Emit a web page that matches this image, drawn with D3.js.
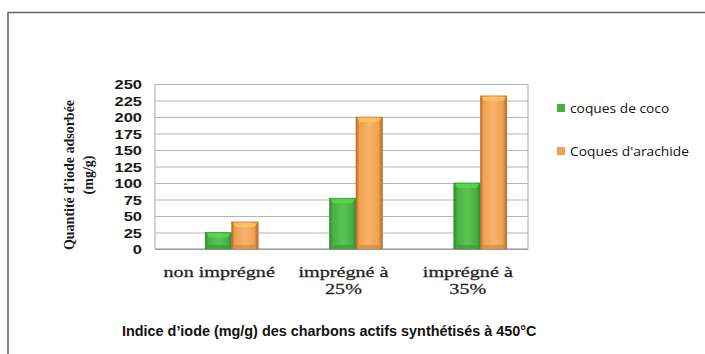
<!DOCTYPE html>
<html>
<head>
<meta charset="utf-8">
<script src="https://cdn.jsdelivr.net/npm/d3@7"></script>
<style>
  html, body { margin: 0; padding: 0; background: #fff; }
  svg { display: block; }
</style>
</head>
<body>
<svg id="chart" width="705" height="354"></svg>
<script>
// Iodine number of activated carbons synthesised at 450°C
const categories = [["non imprégné"], ["imprégné à", "25%"], ["imprégné à", "35%"]];
const seriesNames = ["coques de coco", "Coques d'arachide"];
const coco = [25, 77, 100];
const arachide = [41, 200, 232];
const yTicks = [0, 25, 50, 75, 100, 125, 150, 175, 200, 225, 250];
const yTitle = ["Quantité d'iode adsorbée", "(mg/g)"];
const caption = "Indice d’iode (mg/g) des charbons actifs synthétisés à 450°C";

const svg = d3.select("#chart");
const defs = svg.append("defs");

// bevelled fills for the columns
function bevel(id, edge, mid, light) {
  const g = defs.append("linearGradient").attr("id", id).attr("x1", 0).attr("x2", 1).attr("y1", 0).attr("y2", 0);
  g.append("stop").attr("offset", "0%").attr("stop-color", edge);
  g.append("stop").attr("offset", "12%").attr("stop-color", mid);
  g.append("stop").attr("offset", "50%").attr("stop-color", light);
  g.append("stop").attr("offset", "85%").attr("stop-color", mid);
  g.append("stop").attr("offset", "100%").attr("stop-color", edge);
}
bevel("gGreen", "#2f8a2c", "#45b23f", "#5cc353");
bevel("gOrange", "#b8681e", "#f0a050", "#f7b46c");
const colors = ["#45b23f", "#f0a050"];
const fills = ["url(#gGreen)", "url(#gOrange)"];

// stretch a text node horizontally so it spans the given width
function fitWidth(node, x0, yb, width, anchor) {
  const len = node.getComputedTextLength();
  const k = width / len;
  const tx = anchor === "middle" ? x0 : x0;
  d3.select(node).attr("transform", `translate(${tx},${yb}) scale(${k},1)`);
}

// frame
svg.append("path").attr("d", "M8,354 L8,12.5 L705,12.5").attr("fill", "none")
  .attr("stroke", "#666").attr("stroke-width", 1.5);

const plot = { left: 155, right: 528, top: 84, bottom: 249 };
const depth = 14.5;

const y = d3.scaleLinear().domain([0, 250]).range([plot.bottom, plot.top]);
const x = d3.scaleBand().domain(d3.range(categories.length)).range([plot.left, plot.right]);
const barW = 26.5;
const xs = d3.scaleBand().domain([0, 1]).range([-barW, barW]).padding(0);

// horizontal grid lines and value labels
const yAxis = d3.axisLeft(y).tickValues(yTicks).tickSize(-(plot.right - plot.left)).tickFormat(d => d);
const ya = svg.append("g").attr("transform", `translate(${plot.left},0)`).call(yAxis);
ya.select(".domain").remove();
ya.selectAll(".tick line").attr("stroke", "#b5b5b5").attr("stroke-width", 1);
ya.selectAll(".tick text")
  .attr("dy", "0.36em")
  .attr("font-family", "Liberation Sans, Arial, sans-serif")
  .attr("font-weight", "bold").attr("font-size", 13.5).attr("fill", "#1a1a1a")
  .attr("transform", "scale(1.22,1)")
  .attr("x", -13 / 1.22);

// side walls and floor
svg.append("line").attr("x1", plot.left).attr("x2", plot.left).attr("y1", plot.top).attr("y2", plot.bottom).attr("stroke", "#a8a8a8");
svg.append("line").attr("x1", plot.right).attr("x2", plot.right).attr("y1", plot.top).attr("y2", plot.bottom).attr("stroke", "#a8a8a8");
svg.append("line").attr("x1", plot.left).attr("x2", plot.right).attr("y1", plot.bottom).attr("y2", plot.bottom).attr("stroke", "#8a8a8a");

// columns
const data = [coco, arachide];
data.forEach((vals, s) => {
  const g = svg.append("g");
  vals.forEach((v, i) => {
    const cx = x(i) + x.bandwidth() / 2 + depth;
    const x0 = cx + xs(s);
    const w = xs.bandwidth();
    const top = y(v);
    const h = plot.bottom - top;
    g.append("rect").attr("x", x0).attr("y", top).attr("width", w).attr("height", h)
      .attr("fill", fills[s]).attr("stroke", d3.color(colors[s]).darker(0.8)).attr("stroke-width", 0.6);
    // top bevel highlight
    g.append("path")
      .attr("d", `M${x0 + 1},${top + 1} L${x0 + w - 1},${top + 1} L${x0 + w - 4},${top + 5} L${x0 + 4},${top + 5} Z`)
      .attr("fill", d3.color(colors[s]).brighter(0.6)).attr("opacity", 0.8);
    // bottom shadow band
    g.append("rect").attr("x", x0 + 3).attr("y", plot.bottom - 4).attr("width", w - 6).attr("height", 3.5)
      .attr("fill", d3.color(colors[s]).darker(0.5)).attr("opacity", 0.6);
  });
});

// category labels
const catG = svg.append("g");
categories.forEach((lines, i) => {
  const cx = x(i) + x.bandwidth() / 2 + 2;
  lines.forEach((t, k) => {
    catG.append("text")
      .attr("transform", `translate(${cx},${277 + k * 17}) scale(1.3,1)`)
      .attr("text-anchor", "middle")
      .attr("font-family", "Liberation Serif, Times New Roman, serif")
      .attr("font-size", 15.5).attr("fill", "#222")
      .attr("stroke", "#222").attr("stroke-width", 0.25)
      .text(t);
  });
});

// y axis title
const yt = svg.append("g").attr("transform", "translate(0,175)");
yTitle.forEach((t, k) => {
  yt.append("text")
    .attr("transform", `translate(${74 + k * 19},0) rotate(-90)`)
    .attr("text-anchor", "middle")
    .attr("font-family", "Liberation Serif, Times New Roman, serif")
    .attr("font-weight", "bold").attr("font-size", 14).attr("fill", "#1a1a1a")
    .text(t);
});

// legend
const leg = svg.append("g");
seriesNames.forEach((n, i) => {
  const ly = 108 + i * 43;
  leg.append("rect").attr("x", 557).attr("y", ly - 4).attr("width", 8).attr("height", 8).attr("fill", colors[i]);
  leg.append("text")
    .attr("transform", `translate(570,${ly + 4.5}) scale(1.15,1)`)
    .attr("font-family", "Open Sans, Liberation Sans, sans-serif")
    .attr("font-size", 12).attr("fill", "#111")
    .text(n);
});

// caption
const cap = svg.append("text")
  .attr("font-family", "Liberation Sans, Arial, sans-serif")
  .attr("font-weight", "bold").attr("font-size", 14).attr("fill", "#111")
  .text(caption);
fitWidth(cap.node(), 122, 336, 415);
</script>
</body>
</html>
